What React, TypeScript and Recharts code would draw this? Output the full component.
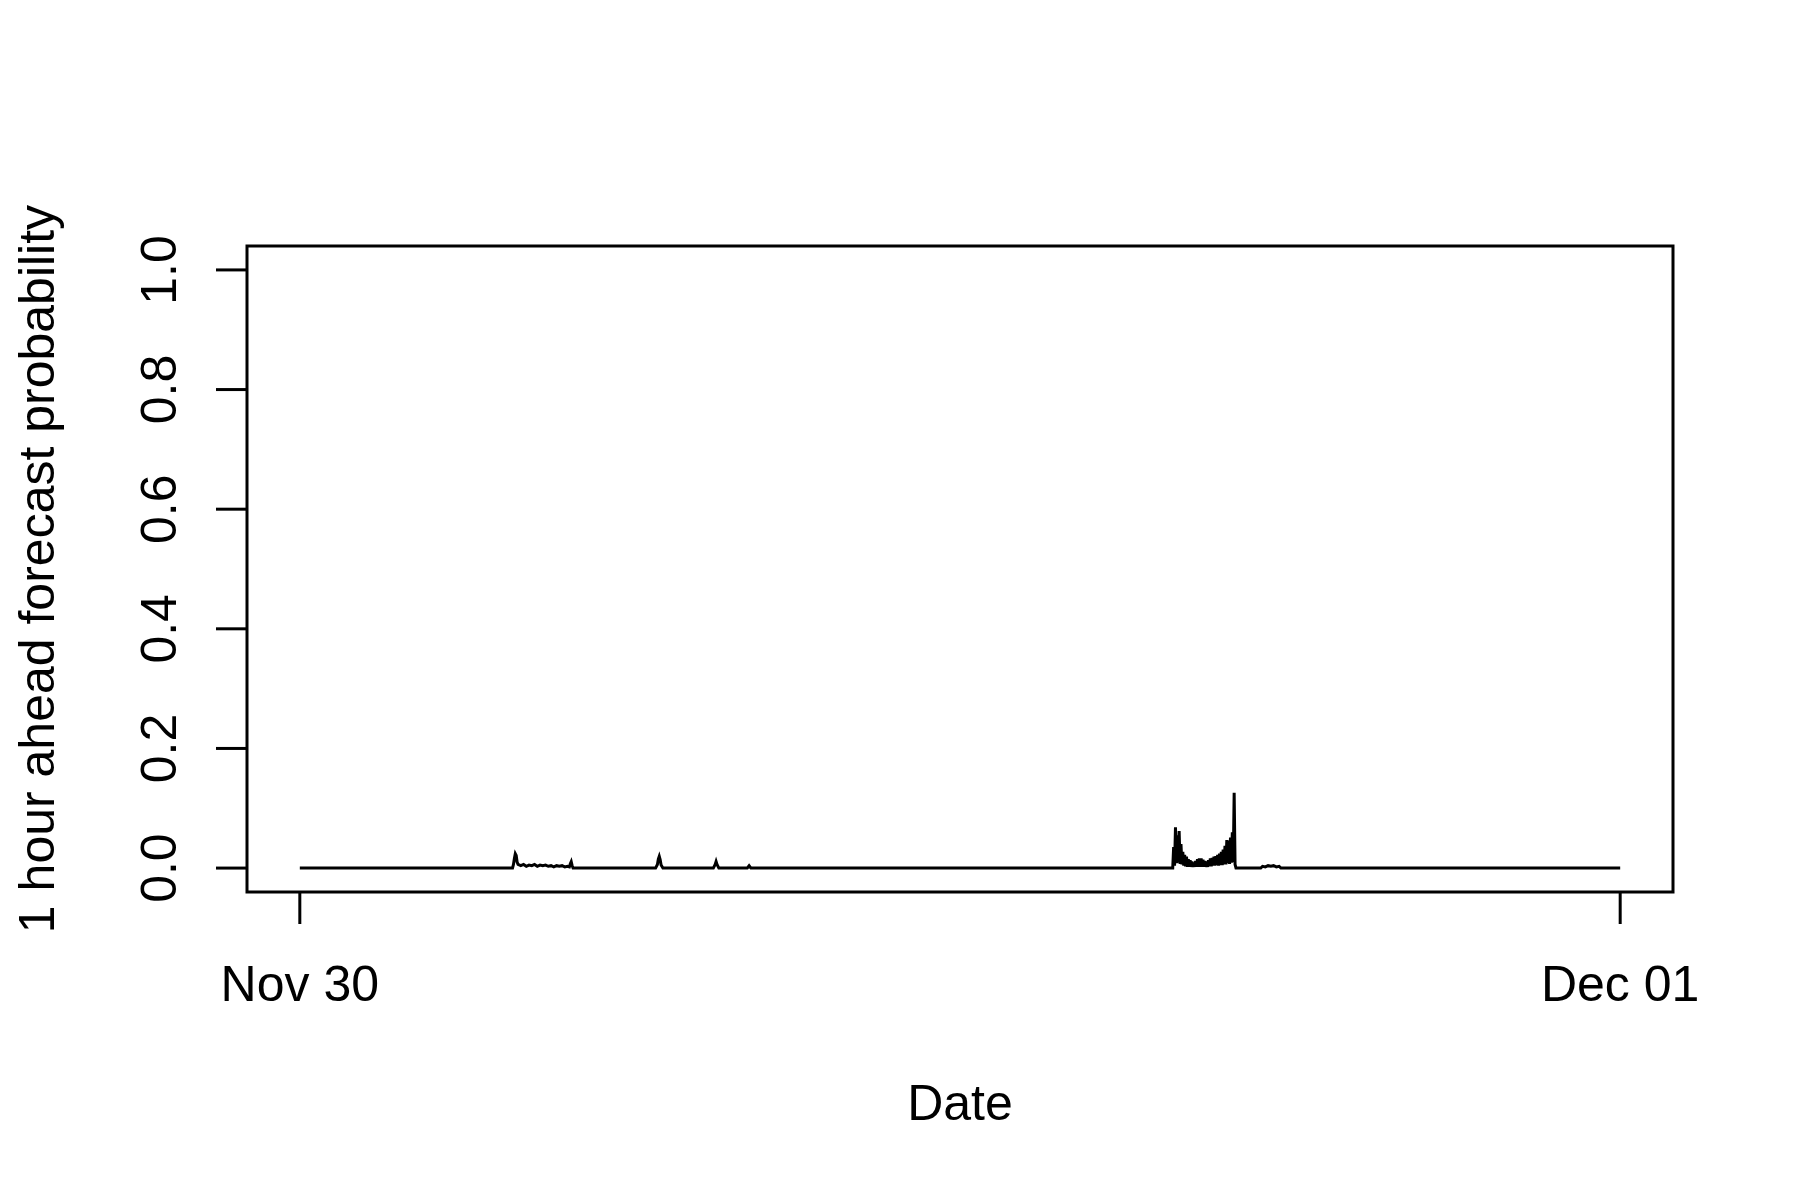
import React from 'react';
import { LineChart, Line, XAxis, YAxis, ReferenceArea } from 'recharts';

// Time in minutes after Nov 30 00:00
const minutes: number[] = [
  0, 232, 233, 234, 235, 236, 237, 238, 241, 244, 247, 250, 253, 256, 259, 262, 265, 268, 271, 274, 277, 280, 283, 286, 289, 292, 294, 295, 296, 297, 298,
  388, 390, 391, 392, 393, 394, 396,
  451, 453, 454, 455, 457,
  488, 489, 490, 491, 492,
  952, 953, 954, 955, 956, 957, 958, 959, 960, 961, 962, 963, 964, 965, 966, 967, 968, 969, 970,
  971, 972, 973, 974, 975, 976, 977, 978, 979, 980, 981, 982, 983, 984, 985, 986, 987, 988, 989, 990,
  991, 992, 993, 994, 995, 996, 997, 998, 999, 1000, 1001, 1002, 1003, 1004, 1005, 1006, 1007, 1008, 1009, 1010,
  1011, 1012, 1013, 1014, 1015, 1016, 1017, 1018, 1019, 1020, 1021,
  1048, 1050, 1053, 1056, 1059, 1062, 1065, 1068, 1070,
  1440,
];

const probability: number[] = [
  0, 0, 0.006, 0.016, 0.024, 0.021, 0.01, 0.006, 0.004, 0.006, 0.003, 0.005, 0.004, 0.006, 0.003, 0.005, 0.004, 0.005, 0.003, 0.004, 0.002, 0.004, 0.003, 0.004, 0.002, 0.003, 0.002, 0.007, 0.0105, 0.004, 0,
  0, 0.006, 0.015, 0.0195, 0.014, 0.005, 0,
  0, 0.006, 0.011, 0.006, 0,
  0, 0.002, 0.004, 0.002, 0,
  0, 0.035, 0.004, 0.068, 0.008, 0.055, 0.009, 0.062, 0.007, 0.04, 0.006, 0.027, 0.004, 0.022, 0.003, 0.019, 0.002, 0.015, 0.002,
  0.013, 0.002, 0.011, 0.002, 0.009, 0.002, 0.012, 0.002, 0.015, 0.002, 0.016, 0.002, 0.016, 0.002, 0.014, 0.002, 0.012, 0.002, 0.011, 0.002,
  0.013, 0.003, 0.016, 0.003, 0.017, 0.004, 0.019, 0.004, 0.02, 0.005, 0.022, 0.004, 0.024, 0.005, 0.027, 0.005, 0.031, 0.006, 0.037, 0.006,
  0.047, 0.008, 0.046, 0.007, 0.051, 0.009, 0.06, 0.01, 0.126, 0.006, 0,
  0, 0.003, 0.002, 0.004, 0.003, 0.004, 0.002, 0.003, 0,
  0,
];

const xTickValues: number[] = [0, 1440];
const xTickLabels: string[] = ['Nov 30', 'Dec 01'];
const yTickValues: number[] = [0, 0.2, 0.4, 0.6, 0.8, 1.0];
const yTickLabels: string[] = ['0.0', '0.2', '0.4', '0.6', '0.8', '1.0'];

const xLabel = 'Date';
const yLabel = '1 hour ahead forecast probability';

const data = minutes.map((m, i) => ({ m, p: probability[i] }));

const FONT = '"Liberation Sans", Arial, Helvetica, sans-serif';
const FS = 50;
const LW = 3;

const XTick = (props: any) => {
  const { x, y, payload } = props;
  const idx = xTickValues.indexOf(payload.value);
  return (
    <text x={x} y={y + 77} textAnchor="middle" fontFamily={FONT} fontSize={FS} fill="#000">
      {idx >= 0 ? xTickLabels[idx] : ''}
    </text>
  );
};

const YTick = (props: any) => {
  const { x, y, payload } = props;
  const idx = yTickValues.findIndex((v) => Math.abs(v - payload.value) < 1e-9);
  const tx = x - 40;
  return (
    <text
      x={tx}
      y={y}
      transform={`rotate(-90, ${tx}, ${y})`}
      textAnchor="middle"
      fontFamily={FONT}
      fontSize={FS}
      fill="#000"
    >
      {idx >= 0 ? yTickLabels[idx] : ''}
    </text>
  );
};

const XLabelContent = (props: any) => {
  const vb = props.viewBox || {};
  return (
    <text x={vb.x + vb.width / 2} y={vb.y + 228} textAnchor="middle" fontFamily={FONT} fontSize={FS} fill="#000">
      {xLabel}
    </text>
  );
};

const YLabelContent = (props: any) => {
  const vb = props.viewBox || {};
  const tx = vb.x + vb.width - 193;
  const ty = vb.y + vb.height / 2;
  return (
    <text
      x={tx}
      y={ty}
      transform={`rotate(-90, ${tx}, ${ty})`}
      textAnchor="middle"
      fontFamily={FONT}
      fontSize={FS}
      fill="#000"
    >
      {yLabel}
    </text>
  );
};

export default function App() {
  return (
    <div style={{ position: 'absolute', left: 0, top: 0, width: 1800, height: 1200, background: '#fff' }}>
      <LineChart
        width={1800}
        height={1200}
        data={data}
        margin={{ top: 246, left: 147, right: 127, bottom: 208 }}
      >
        <XAxis
          dataKey="m"
          type="number"
          domain={[-57.6, 1497.6]}
          allowDataOverflow
          ticks={xTickValues}
          interval={0}
          height={100}
          axisLine={false}
          tickLine={{ stroke: '#000', strokeWidth: LW }}
          tickSize={32}
          tickMargin={0}
          tick={<XTick />}
          label={{ content: <XLabelContent /> } as any}
        />
        <YAxis
          dataKey="p"
          type="number"
          domain={[-0.04, 1.04]}
          allowDataOverflow
          ticks={yTickValues}
          interval={0}
          width={100}
          axisLine={false}
          tickLine={{ stroke: '#000', strokeWidth: LW }}
          tickSize={31}
          tickMargin={0}
          tick={<YTick />}
          label={{ content: <YLabelContent /> } as any}
        />
        <ReferenceArea
          x1={-57.6}
          x2={1497.6}
          y1={-0.04}
          y2={1.04}
          fill="none"
          fillOpacity={0}
          stroke="#000"
          strokeWidth={LW}
          ifOverflow="visible"
        />
        <Line
          type="linear"
          dataKey="p"
          stroke="#000"
          strokeWidth={LW}
          dot={false}
          activeDot={false}
          isAnimationActive={false}
        />
      </LineChart>
    </div>
  );
}
